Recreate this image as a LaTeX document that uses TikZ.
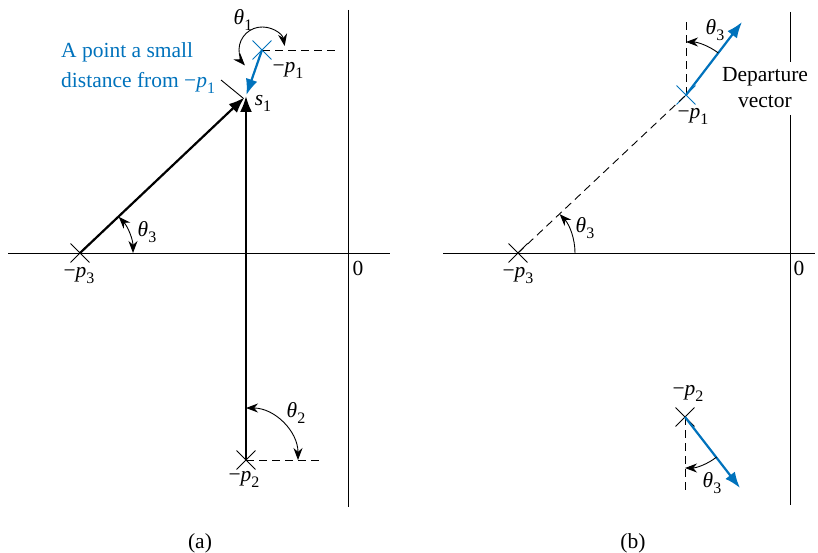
\documentclass[tikz,border=0pt]{standalone}
\usepackage{fontspec}
\setmainfont{Liberation Serif}
\usetikzlibrary{arrows.meta,shapes.misc}
\definecolor{pblue}{RGB}{0,114,188}
\newcommand\mysub[1]{\raisebox{-0.28em}{\fontsize{16}{16}\selectfont #1}}
\newcommand\negp[1]{−{\itshape p}\mysub{#1}}
\newcommand\thet[1]{{\itshape θ}\mysub{#1}}
\begin{document}
\begin{tikzpicture}[x=1pt,y=-1pt,
  every node/.style={font=\fontsize{21.5}{26}\selectfont, inner sep=0pt},
  pole/.style={cross out, draw, line width=0.9pt, minimum size=18pt, inner sep=0pt},
  bpole/.style={pole, draw=pblue},
  axis/.style={line width=1pt},
  vec/.style={line width=2.2pt, -{Latex[length=16pt,width=12pt]}},
  bvec/.style={vec, draw=pblue, -{Latex[length=16pt,width=12pt,color=pblue]}},
  ang/.style={line width=0.9pt, >={Stealth[length=12pt,width=9pt]}},
  dsh/.style={line width=0.9pt, dash pattern=on 8pt off 5pt}]
\useasboundingbox (0,0) rectangle (818,553);
% ---------- (a) ----------
\coordinate (ra1) at (8,253); \coordinate (ra2) at (390,253);
\coordinate (ia1) at (348,10); \coordinate (ia2) at (348,507);
\draw[axis] (ra1) -- (ra2);
\draw[axis] (ia1) -- (ia2);
\node (zeroa) at (358,268) {0};
\node[pole] (p3a) at (80,253) {};
\node[pole] (p2a) at (246,460) {};
\node[bpole] (p1a) at (262,50) {};
\coordinate (s1) at (246,96);
\coordinate (d1e) at (335,50);
\coordinate (d2e) at (320,460);
\draw[dsh] (p1a.center) -- (d1e);
\draw[dsh] (p2a.center) -- (d2e);
\draw[vec, shorten >=2pt] (p3a.center) -- (s1);
\draw[vec] (p2a.center) -- (s1);
\draw[bvec, shorten >=1pt] (p1a.center) -- (s1);
% leader
\coordinate (lead1) at (221,80); \coordinate (lead2) at (243,98);
\draw[line width=0.9pt] (lead1) -- (lead2);
% angles
\draw[ang, <->] (p1a.center) ++(-10:23) arc[start angle=-10, end angle=-222, radius=23];
\draw[ang, <->] (p3a.center) ++(0:53) arc[start angle=0, end angle=-43, radius=53];
\draw[ang, <->] (p2a.center) ++(-90:52) arc[start angle=-90, end angle=0, radius=52];
% labels
\node (t1) at (243,20) {\thet{1}};
\node[text=pblue, align=left, anchor=west] (note) at (61,68) {A point a small\\[4pt]distance from \negp{1}};
\node (s1l) at (263,103) {{\itshape s}\mysub{1}};
\node (p1al) at (288,70) {\negp{1}};
\node (p3al) at (79,276) {\negp{3}};
\node (t3a) at (147,232) {\thet{3}};
\node (t2a) at (296,413) {\thet{2}};
\node (p2al) at (244,479) {\negp{2}};
\node (capa) at (200,543) {(a)};
% ---------- (b) ----------
\coordinate (rb1) at (443,253); \coordinate (rb2) at (815,253);
\coordinate (ib1) at (790,12); \coordinate (ib2) at (790,62);
\coordinate (ib3) at (790,115); \coordinate (ib4) at (790,505);
\draw[axis] (rb1) -- (rb2);
\draw[axis] (ib1) -- (ib2);
\draw[axis] (ib3) -- (ib4);
\node (zerob) at (799,268) {0};
\node[pole] (p3b) at (518,253) {};
\node[bpole] (p1b) at (686,95) {};
\node[pole] (p2b) at (685,417) {};
\coordinate (v1e) at (686,20);
\coordinate (v2e) at (685,490);
\coordinate (dep1) at (742,22);
\coordinate (dep2) at (740,488);
\draw[dsh] (p3b.center) -- (p1b.center);
\draw[dsh] (p1b.center) -- (v1e);
\draw[dsh] (p2b.center) -- (v2e);
\draw[bvec] (p1b.center) -- (dep1);
\draw[bvec] (p2b.center) -- (dep2);
\draw[ang, ->] (p3b.center) ++(0:57) arc[start angle=0, end angle=-43, radius=57];
\draw[ang, ->] (p1b.center) ++(-52.5:53) arc[start angle=-52.5, end angle=-90, radius=53];
\draw[ang, ->] (p2b.center) ++(51.8:51) arc[start angle=51.8, end angle=90, radius=51];
\node (p3bl) at (518,276) {\negp{3}};
\node (t3b1) at (585,228) {\thet{3}};
\node (p1bl) at (693,116) {\negp{1}};
\node (t3b2) at (715,30) {\thet{3}};
\node[align=center] (depl) at (765,88) {Departure\\vector};
\node (p2bl) at (688,393) {\negp{2}};
\node (t3b3) at (712,483) {\thet{3}};
\node (capb) at (633,543) {(b)};
\end{tikzpicture}
\end{document}
